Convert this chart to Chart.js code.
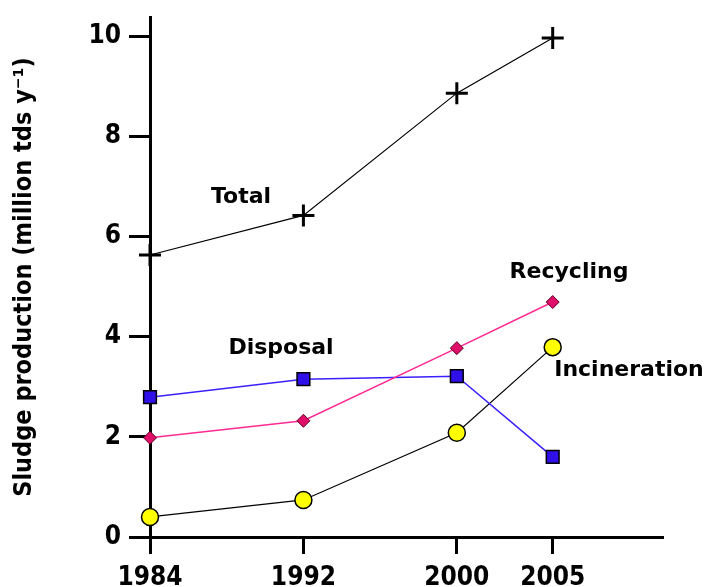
<!DOCTYPE html>
<html>
<head>
<meta charset="utf-8">
<script src="https://cdn.jsdelivr.net/npm/chart.js@4/dist/chart.umd.min.js"></script>
<style>
  html, body { margin: 0; padding: 0; background: #fff; }
  #wrap { width: 707px; height: 587px; }
</style>
</head>
<body>
<div id="wrap"><canvas id="sludgeChart" width="707" height="587"></canvas></div>
<script>
/* =========================================================
   DATA
========================================================= */
const years = [1984, 1992, 2000, 2005];
const totalValues = [5.63, 6.42, 8.86, 9.96];
const recyclingValues = [1.98, 2.32, 3.77, 4.69];
const disposalValues = [2.79, 3.15, 3.21, 1.60];
const incinerationValues = [0.40, 0.74, 2.08, 3.79];
const yTickValues = [0, 2, 4, 6, 8, 10];
const yAxisTitle = "Sludge production (million tds y\u207B\u00B9)";

/* =========================================================
   HELPERS
========================================================= */
const TICK_FONT = "'DejaVu Sans Condensed', 'Liberation Sans', sans-serif";
const LABEL_FONT = "'DejaVu Sans', 'Liberation Sans', sans-serif";

function toPoints(values) {
  return values.map((v, i) => ({ x: years[i], y: v }));
}

/* =========================================================
   SERIES LABELS (drawn beside the lines)
========================================================= */
const seriesLabels = {
  id: "seriesLabels",
  afterDatasetsDraw(chart) {
    const ctx = chart.ctx;
    const spots = [
      { text: "Total", px: 241, py: 197 },
      { text: "Disposal", px: 281, py: 348 },
      { text: "Recycling", px: 569, py: 272 },
      { text: "Incineration", px: 629, py: 370 }
    ];
    ctx.save();
    ctx.fillStyle = "#000";
    ctx.font = "bold 22px " + LABEL_FONT;
    ctx.textAlign = "center";
    ctx.textBaseline = "middle";
    spots.forEach(s => ctx.fillText(s.text, s.px, s.py));
    ctx.restore();
  }
};

/* =========================================================
   CHART
========================================================= */
new Chart(document.getElementById("sludgeChart"), {
  type: "line",
  data: {
    datasets: [
      {
        label: "Total",
        data: toPoints(totalValues),
        borderColor: "#000",
        borderWidth: 1.2,
        pointStyle: "cross",
        pointRadius: 11,
        pointBorderWidth: 3,
        pointBorderColor: "#000"
      },
      {
        label: "Recycling",
        data: toPoints(recyclingValues),
        borderColor: "#ff2a92",
        borderWidth: 1.5,
        pointStyle: "rectRot",
        pointRadius: 6.5,
        pointBackgroundColor: "#e0106a",
        pointBorderColor: "#5a0020",
        pointBorderWidth: 1
      },
      {
        label: "Disposal",
        data: toPoints(disposalValues),
        borderColor: "#3a20ff",
        borderWidth: 1.5,
        pointStyle: "rect",
        pointRadius: 9,
        pointBackgroundColor: "#3010e8",
        pointBorderColor: "#000",
        pointBorderWidth: 1.5
      },
      {
        label: "Incineration",
        data: toPoints(incinerationValues),
        borderColor: "#000",
        borderWidth: 1.2,
        pointStyle: "circle",
        pointRadius: 8.5,
        pointBackgroundColor: "#ffff00",
        pointBorderColor: "#000",
        pointBorderWidth: 1.5
      }
    ]
  },
  options: {
    responsive: false,
    animation: false,
    clip: false,
    layout: { padding: { top: 17, right: 45, left: 0, bottom: 0 } },
    plugins: {
      legend: { display: false },
      tooltip: { enabled: false }
    },
    elements: { line: { tension: 0 } },
    scales: {
      x: {
        type: "linear",
        min: 1984,
        max: 2010.7,
        afterBuildTicks: scale => {
          scale.ticks = years.map(v => ({ value: v }));
        },
        afterFit: scale => {
          scale.height = 50;
          scale.paddingLeft = 0;
          scale.paddingRight = 0;
        },
        border: { display: true, color: "#000", width: 3 },
        grid: {
          drawOnChartArea: false,
          drawTicks: true,
          tickLength: 17,
          lineWidth: 3,
          color: "#000"
        },
        ticks: {
          color: "#000",
          padding: 9,
          maxRotation: 0,
          autoSkip: false,
          font: { family: TICK_FONT, size: 26, weight: "bold" },
          callback: v => String(v)
        }
      },
      y: {
        min: 0,
        max: 10.38,
        afterBuildTicks: scale => {
          scale.ticks = yTickValues.map(v => ({ value: v }));
        },
        afterFit: scale => {
          scale.width = 150;
          scale.paddingTop = 0;
          scale.paddingBottom = 0;
        },
        border: { display: true, color: "#000", width: 3 },
        grid: {
          drawOnChartArea: false,
          drawTicks: true,
          tickLength: 21,
          lineWidth: 3,
          color: "#000"
        },
        ticks: {
          color: "#000",
          padding: 8,
          font: { family: TICK_FONT, size: 26, weight: "bold" }
        },
        title: {
          display: true,
          text: yAxisTitle,
          color: "#000",
          padding: { top: 9, bottom: 0 },
          font: { family: TICK_FONT, size: 25, weight: "bold" }
        }
      }
    }
  },
  plugins: [seriesLabels]
});
</script>
</body>
</html>
